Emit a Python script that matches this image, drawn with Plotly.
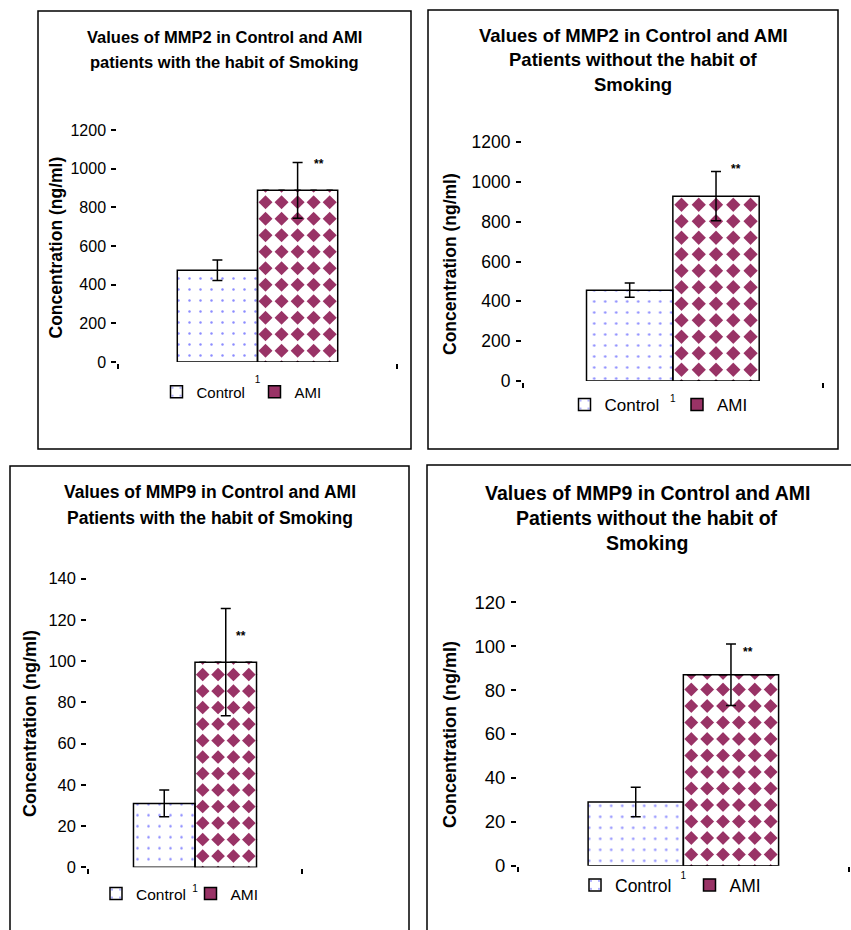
import plotly.graph_objects as go

W, H = 851, 930

# ---------------- data ----------------
categories = ["1"]
series_names = ["Control", "AMI"]
control_mean = [475, 456, 31, 29]
control_sd = [53, 36, 6.5, 6.7]
ami_mean = [888, 928, 99.5, 87]
ami_sd = [144, 124, 26, 14]
y_max = [1200, 1200, 140, 120]
y_step = [200, 200, 20, 20]
titles = [
    ["Values of MMP2 in Control and AMI", "patients with the habit of Smoking"],
    ["Values of MMP2 in Control and AMI", "Patients without the habit of", "Smoking"],
    ["Values of MMP9 in Control and AMI", "Patients with the habit of Smoking"],
    ["Values of MMP9 in Control and AMI", "Patients without the habit of", "Smoking"],
]
y_title = "Concentration (ng/ml)"
signif_mark = "**"

# ---------------- style / layout ----------------
FONT = "Liberation Sans, Arial, sans-serif"
CONTROL_DOT = "#8c8cff"
AMI_COLOR = "#993366"
BAR_W = 0.575

panels = [
    dict(box=(38, 11, 411, 449), plot=(118, 130, 397, 362),
         title_y=(37, 62), title_size=16.5,
         ytitle_xy=(55, 247.5), ytitle_size=17.5, tick_size=16,
         legend_xy=(177.5, 392), legend_gap=98, legend_size=15,
         cat_gap=7, star_shift=(21, 1)),
    dict(box=(428, 10, 838, 449), plot=(522.7, 142, 823, 381),
         title_y=(36, 60, 84), title_size=18.5,
         ytitle_xy=(450, 264), ytitle_size=17.5, tick_size=17.5,
         legend_xy=(585.5, 405), legend_gap=112.5, legend_size=17,
         cat_gap=7, star_shift=(19.5, 5)),
    dict(box=(10, 466, 409, 945), plot=(88, 578.7, 302, 867.3),
         title_y=(492, 518), title_size=17.5,
         ytitle_xy=(30, 724), ytitle_size=18, tick_size=16.5,
         legend_xy=(117, 894), legend_gap=94.5, legend_size=15.5,
         cat_gap=11, star_shift=(15, -24)),
    dict(box=(427, 465, 880, 945), plot=(517.7, 602.3, 849, 865.7),
         title_y=(493, 518, 543), title_size=19.5,
         ytitle_xy=(450, 735), ytitle_size=18, tick_size=18.5,
         legend_xy=(596, 885), legend_gap=114.5, legend_size=17.5,
         cat_gap=0, star_shift=(17, -5)),
]


def fx(px):
    return px / W


def fy(py):
    return 1 - py / H


fig = go.Figure()
annotations = []
shapes = []

for k, p in enumerate(panels):
    sfx = "" if k == 0 else str(k + 1)
    xref, yref, leg = "x" + sfx, "y" + sfx, "legend" + sfx
    x0, yt, x1, yb = p["plot"]
    plot_w, plot_h = x1 - x0, yb - yt

    # Control bar (dotted)
    fig.add_trace(go.Bar(
        x=[0], y=[control_mean[k]], offset=-BAR_W, width=BAR_W,
        name=series_names[0],
        marker=dict(color="white", line=dict(color="black", width=1.5),
                    pattern=dict(shape=".", fgcolor=CONTROL_DOT, bgcolor="white",
                                 size=11, solidity=0.04, fillmode="replace")),
        error_y=dict(type="data", array=[control_sd[k]], color="black",
                     thickness=1.5, width=5),
        xaxis=xref, yaxis=yref, legend=leg, zorder=2, hoverinfo="skip"))

    # AMI bar (plum fill; white diamonds give the checker pattern)
    fig.add_trace(go.Bar(
        x=[0], y=[ami_mean[k]], offset=0, width=BAR_W,
        name=series_names[1],
        marker=dict(color=AMI_COLOR, line=dict(color="black", width=1.5)),
        xaxis=xref, yaxis=yref, legend=leg, zorder=0, hoverinfo="skip"))

    # texture: white diamonds laid on a grid over the AMI bar
    px_per_x = plot_w / 2.0
    px_per_y = plot_h / y_max[k]
    bar_px = BAR_W * px_per_x
    n = max(1, int(round(bar_px / 16.0)))
    ax_px = bar_px / n
    ay_px = 16.5
    d = 1.15 * (ax_px + ay_px) / 2.0
    bar_h = ami_mean[k] * px_per_y
    xs, ys = [], []
    h = 3.0
    while h - d / 2.0 < bar_h:
        for i in range(n + 1):
            xs.append(i * BAR_W / n)
            ys.append(h / px_per_y)
        h += ay_px
    fig.add_trace(go.Scatter(
        x=xs, y=ys, mode="markers",
        marker=dict(symbol="diamond", size=d / 1.3, color="white", line=dict(width=0)),
        showlegend=False, hoverinfo="skip", cliponaxis=True,
        xaxis=xref, yaxis=yref, zorder=1))

    # AMI outline + error bar on top
    fig.add_trace(go.Bar(
        x=[0], y=[ami_mean[k]], offset=0, width=BAR_W, name=series_names[1],
        marker=dict(color="rgba(0,0,0,0)", line=dict(color="black", width=1.5)),
        error_y=dict(type="data", array=[ami_sd[k]], color="black",
                     thickness=1.5, width=5),
        showlegend=False, xaxis=xref, yaxis=yref, zorder=3, hoverinfo="skip"))

    fig.update_layout({
        "xaxis" + sfx: dict(
            domain=[fx(x0), fx(x1)], range=[-1, 1], anchor=yref,
            tickvals=[0], ticktext=categories, ticks="",
            showline=True, linecolor="black", linewidth=1.5,
            showgrid=False, zeroline=False, automargin=False,
            tickfont=dict(size=10, family=FONT, color="black"),
            ticklabelstandoff=p["cat_gap"],
            minor=dict(tickvals=[-1, 1], ticks="outside", ticklen=5,
                       tickwidth=1.5, tickcolor="black", showgrid=False),
            fixedrange=True),
        "yaxis" + sfx: dict(
            domain=[fy(yb), fy(yt)], range=[0, y_max[k]], anchor=xref,
            tick0=0, dtick=y_step[k], ticks="outside", ticklen=5,
            tickwidth=1.5, tickcolor="black",
            showline=True, linecolor="black", linewidth=1.5,
            showgrid=False, zeroline=False, automargin=False,
            tickfont=dict(size=p["tick_size"], family=FONT, color="black"),
            ticklabelstandoff=2, fixedrange=True),
        leg: dict(
            orientation="h", x=fx(p["legend_xy"][0] - 21), y=fy(p["legend_xy"][1]),
            xanchor="left", yanchor="middle", xref="paper", yref="paper",
            font=dict(size=p["legend_size"], family=FONT, color="black"),
            bgcolor="rgba(0,0,0,0)", itemwidth=30,
            entrywidth=p["legend_gap"] - 45, entrywidthmode="pixels",
            traceorder="normal", itemclick=False, itemdoubleclick=False),
    })

    # titles
    bx0, by0, bx1, by1 = p["box"]
    tcx = (bx0 + min(bx1, 867)) / 2.0
    for line, ly in zip(titles[k], p["title_y"]):
        annotations.append(dict(
            text="<b>" + line + "</b>", x=fx(tcx), y=fy(ly),
            xref="paper", yref="paper", xanchor="center", yanchor="middle",
            showarrow=False, font=dict(size=p["title_size"], family=FONT, color="black")))
    # y title
    annotations.append(dict(
        text="<b>" + y_title + "</b>", x=fx(p["ytitle_xy"][0]), y=fy(p["ytitle_xy"][1]),
        xref="paper", yref="paper", xanchor="center", yanchor="middle",
        textangle=-90, showarrow=False,
        font=dict(size=p["ytitle_size"], family=FONT, color="black")))
    # significance mark
    annotations.append(dict(
        text="<b>" + signif_mark + "</b>", x=BAR_W / 2.0, y=ami_mean[k] + ami_sd[k],
        xref=xref, yref=yref, xanchor="center", yanchor="middle",
        xshift=p["star_shift"][0], yshift=p["star_shift"][1] - 3,
        showarrow=False, font=dict(size=12, family=FONT, color="black")))
    # panel frame
    shapes.append(dict(type="rect", xref="paper", yref="paper",
                       x0=fx(bx0), x1=fx(bx1), y0=fy(by1), y1=fy(by0),
                       line=dict(color="black", width=1.5), fillcolor="rgba(0,0,0,0)"))

fig.update_layout(
    width=W, height=H, autosize=False,
    margin=dict(l=0, r=0, t=0, b=0, pad=0, autoexpand=False),
    paper_bgcolor="white", plot_bgcolor="white",
    barmode="overlay", showlegend=True,
    annotations=annotations, shapes=shapes,
    font=dict(family=FONT, color="black"),
)

fig.write_html(
    "out.html",
    config={"displayModeBar": False, "staticPlot": False},
    post_script="document.body.style.margin='0';document.body.style.padding='0';"
                "document.body.style.overflow='hidden';",
)
